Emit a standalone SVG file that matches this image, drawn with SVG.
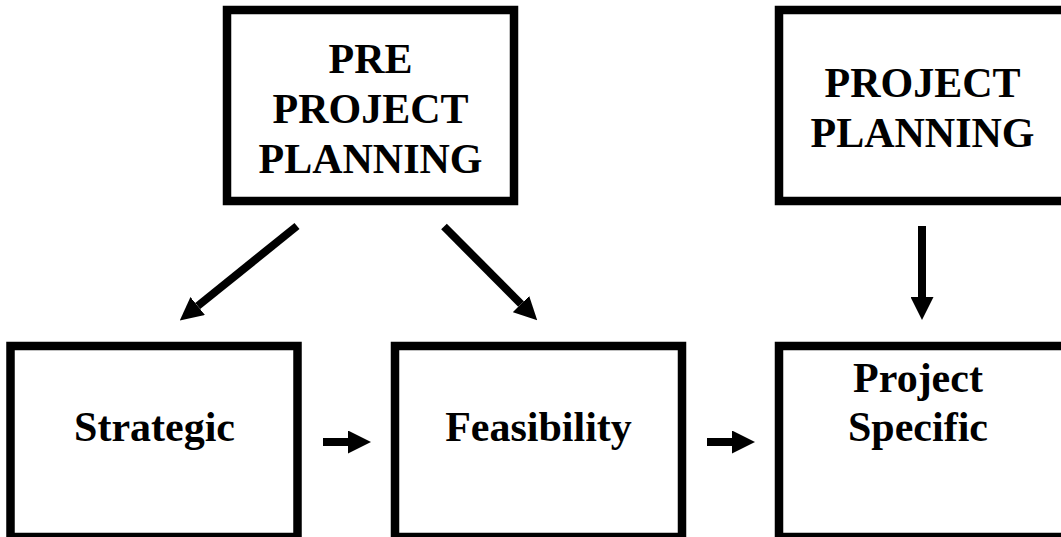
<svg xmlns="http://www.w3.org/2000/svg" width="1061" height="537" viewBox="0 0 1061 537">
  <style>
    .box { fill: #ffffff; stroke: #000000; stroke-width: 8.5; }
    .lbl { font-family: "Liberation Serif", "Times New Roman", serif; font-weight: bold; font-size: 42px; fill: #000000; text-anchor: middle; }
    .conn { stroke: #000000; stroke-width: 8; fill: none; marker-end: url(#head); }
  </style>
  <defs>
    <marker id="head" viewBox="0 0 23 23" markerWidth="23" markerHeight="23" markerUnits="userSpaceOnUse" refX="0" refY="11.5" orient="auto">
      <path d="M0,0 L23,11.5 L0,23 Z" fill="#000000"/>
    </marker>
  </defs>
  <rect width="1061" height="537" fill="#ffffff"/>

  <g id="pre-project-planning">
    <rect class="box" x="227" y="10" width="287" height="191"/>
    <text class="lbl" x="370.5" y="73">PRE</text>
    <text class="lbl" x="370.5" y="123">PROJECT</text>
    <text class="lbl" x="370.5" y="173">PLANNING</text>
  </g>

  <g id="project-planning">
    <rect class="box" x="779" y="10" width="287" height="191"/>
    <text class="lbl" x="922.5" y="97">PROJECT</text>
    <text class="lbl" x="922.5" y="147">PLANNING</text>
  </g>

  <g id="strategic">
    <rect class="box" x="10.5" y="346" width="287" height="191"/>
    <text class="lbl" x="154.5" y="441">Strategic</text>
  </g>

  <g id="feasibility">
    <rect class="box" x="395" y="346" width="287" height="191"/>
    <text class="lbl" x="538.5" y="441">Feasibility</text>
  </g>

  <g id="project-specific">
    <rect class="box" x="779" y="346" width="287" height="191"/>
    <text class="lbl" x="918" y="392">Project</text>
    <text class="lbl" x="918" y="441">Specific</text>
  </g>

  <g id="connectors">
    <line class="conn" x1="297" y1="226" x2="197.7" y2="306"/>
    <line class="conn" x1="444" y1="226.5" x2="521" y2="304"/>
    <line class="conn" x1="922" y1="226" x2="922" y2="297"/>
    <line class="conn" x1="323" y1="442" x2="348" y2="442"/>
    <line class="conn" x1="707" y1="442" x2="732" y2="442"/>
  </g>
</svg>
